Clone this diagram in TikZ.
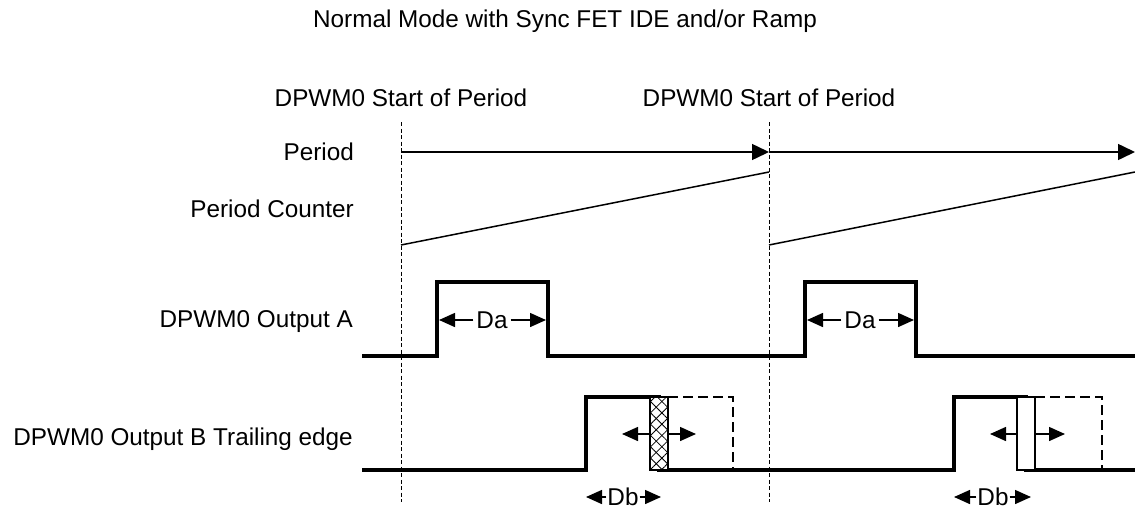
\documentclass[tikz,border=0pt]{standalone}
\usepackage{fontspec}
\setmainfont{Liberation Sans}
\usetikzlibrary{arrows.meta,patterns.meta}
\begin{document}
\begin{tikzpicture}[x=1pt,y=-1pt,
  lbl/.style={inner sep=0pt, font=\fontsize{24.3}{28}\selectfont},
  dlbl/.style={lbl, inner xsep=3pt},
  sig/.style={line width=3.4pt, line join=miter},
  thinl/.style={line width=1.5pt},
  vdash/.style={line width=1pt, dash pattern=on 4pt off 2.5pt},
  boxdash/.style={line width=1.2pt, dash pattern=on 10pt off 5pt},
  bigarr/.style={thinl, -{Triangle[length=17pt,width=16pt]}},
  dimarr/.style={line width=1.5pt, -{Triangle[length=16pt,width=14pt]}},
  hatch/.style={line width=1.3pt, pattern={Lines[angle=45,distance=8pt,line width=0.8pt]}},
  hatchb/.style={pattern={Lines[angle=-45,distance=8pt,line width=0.8pt]}}
]
\useasboundingbox (0,0) rectangle (1135,509);

% texts
\node[lbl, anchor=base] (title) at (565,27) {Normal Mode with Sync FET IDE and/or Ramp};
\node[lbl, anchor=base] (sp1) at (401,106) {DPWM0 Start of Period};
\node[lbl, anchor=base] (sp2) at (769,106) {DPWM0 Start of Period};
\node[lbl, anchor=base east] (lper) at (354,160) {Period};
\node[lbl, anchor=base east] (lcnt) at (354,217) {Period Counter};
\node[lbl, anchor=base east] (lA) at (353,327) {DPWM0 Output A};
\node[lbl, anchor=base east] (lB) at (353,445) {DPWM0 Output B Trailing edge};

% vertical dashed period markers
\coordinate (v1t) at (401,122); \coordinate (v1b) at (401,502);
\coordinate (v2t) at (769,122); \coordinate (v2b) at (769,502);
\draw[vdash] (v1t) -- (v1b);
\draw[vdash] (v2t) -- (v2b);

% period arrows
\coordinate (p0) at (401,152); \coordinate (p1) at (769,152); \coordinate (p2) at (1135,152);
\draw[bigarr] (p0) -- (p1);
\draw[bigarr] (p1) -- (p2);

% ramps
\coordinate (r0a) at (401,245); \coordinate (r0b) at (769,172);
\coordinate (r1a) at (769,245); \coordinate (r1b) at (1135,172);
\draw[thinl] (r0a) -- (r0b);
\draw[thinl] (r1a) -- (r1b);

% Output A
\draw[sig] (362,356) -- (437,356) -- (437,282) -- (548,282) -- (548,356)
  -- (805,356) -- (805,282) -- (916,282) -- (916,356) -- (1135,356);
\node[dlbl] (da1) at (492,320) {Da};
\node[dlbl] (da2) at (860,320) {Da};
\coordinate (da1l) at (439,320); \coordinate (da1r) at (546,320);
\coordinate (da2l) at (807,320); \coordinate (da2r) at (914,320);
\draw[dimarr] (da1.west) -- (da1l);
\draw[dimarr] (da1.east) -- (da1r);
\draw[dimarr] (da2.west) -- (da2l);
\draw[dimarr] (da2.east) -- (da2r);

% Output B
\draw[sig] (362,470) -- (586,470) -- (586,397) -- (659,397) -- (659,470)
  -- (954,470) -- (954,397) -- (1026,397) -- (1026,470) -- (1135,470);
% dashed extension boxes
\draw[boxdash] (668,397) -- (733,397) -- (733,470);
\draw[boxdash] (1035,397) -- (1102,397) -- (1102,470);
% hatched edge window (first period)
\fill[white] (650,397) rectangle (668,470);
\fill[hatchb] (650,397) rectangle (668,470);
\draw[hatch] (650,397) rectangle (668,470);
\coordinate (w1l) at (650,434); \coordinate (w1r) at (668,434);
% plain edge window (second period)
\draw[line width=1.3pt, fill=white] (1017,397) rectangle (1035,470);
\coordinate (w2l) at (1017,434); \coordinate (w2r) at (1035,434);
% move arrows
\coordinate (m1l) at (622,434); \coordinate (m1r) at (696,434);
\coordinate (m2l) at (990,434); \coordinate (m2r) at (1065,434);
\draw[dimarr] (w1l) -- (m1l);
\draw[dimarr] (w1r) -- (m1r);
\draw[dimarr] (w2l) -- (m2l);
\draw[dimarr] (w2r) -- (m2r);

% Db labels
\node[lbl, inner xsep=1pt] (db1) at (623,497) {Db};
\node[lbl, inner xsep=1pt] (db2) at (993,497) {Db};
\coordinate (db1l) at (586,497); \coordinate (db1r) at (661,497);
\coordinate (db2l) at (954,497); \coordinate (db2r) at (1031,497);
\draw[dimarr] (db1.west) -- (db1l);
\draw[dimarr] (db1.east) -- (db1r);
\draw[dimarr] (db2.west) -- (db2l);
\draw[dimarr] (db2.east) -- (db2r);
\end{tikzpicture}
\end{document}
